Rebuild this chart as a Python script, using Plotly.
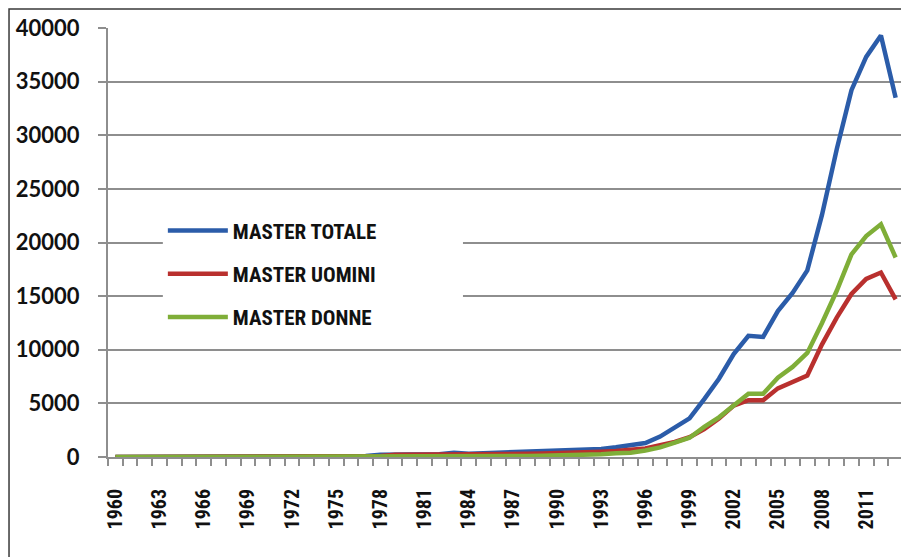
import plotly.graph_objects as go

years = list(range(1960, 2014))

master_totale = [0]*17 + [
    100, 200, 200, 250, 250, 250, 400, 300, 350, 400,          # 1977-1986
    400, 400, 450, 500, 550, 650, 750, 900, 1050, 1300,        # 1987-1996
    1900, 2700, 3600, 5400, 7300, 9600, 11300, 11200, 13600,   # 1997-2005
    15300, 17400, 22600, 28700, 34200, 37300, 39300, 33500     # 2006-2013
]
master_uomini = [0]*17 + [
    50, 100, 200, 200, 200, 200, 250, 250, 250, 300,
    300, 300, 330, 350, 400, 450, 500, 550, 650, 800,
    1100, 1400, 1850, 2600, 3600, 4800, 5300, 5300, 6400,
    7000, 7600, 10500, 13000, 15200, 16600, 17200, 14700
]
master_donne = [0]*17 + [
    0, 20, 30, 30, 40, 40, 50, 60, 70, 80,
    90, 100, 120, 150, 150, 200, 250, 350, 400, 600,
    900, 1350, 1800, 2800, 3700, 4800, 5900, 5900, 7400,
    8400, 9700, 12500, 15500, 18900, 20600, 21700, 18600
]

series_names = ["MASTER TOTALE", "MASTER UOMINI", "MASTER DONNE"]
series_values = [master_totale, master_uomini, master_donne]
series_colors = ["#2b5ca9", "#b9302e", "#7fae38"]

x_tick_labels = [str(y) for y in range(1960, 2014, 3)]
x_tick_vals = list(range(1960, 2014, 3))
y_tick_vals = list(range(0, 40001, 5000))

fig = go.Figure()
for i, (name, vals, col) in enumerate(zip(series_names, series_values, series_colors)):
    fig.add_trace(go.Scatter(
        x=years, y=vals, name=name, mode="lines",
        line=dict(color=col, width=4.5),
        legendgroup=f"g{i}",
    ))

grid_col = "#8e8e8e"
narrow = "Liberation Sans Narrow, Arial Narrow, Roboto Condensed, sans-serif"

fig.update_layout(
    width=901, height=549,
    margin=dict(l=100, r=6, t=20, b=100),
    paper_bgcolor="white", plot_bgcolor="white",
    showlegend=True,
    legend=dict(
        x=0.069, y=0.575, xanchor="left", yanchor="top",
        bgcolor="white", borderwidth=0,
        font=dict(family=narrow, size=21, color="#111111", weight="bold"),
        tracegroupgap=13, itemwidth=60,
    ),
    xaxis=dict(
        range=[1959.5, 2013.5],
        tickmode="array", tickvals=x_tick_vals, ticktext=x_tick_labels,
        ticks="", tickangle=-90,
        tickfont=dict(family=narrow, size=20, color="#111111", weight="bold"),
        ticklabelstandoff=22,
        showline=True, linecolor=grid_col, linewidth=2,
        showgrid=False, zeroline=False,
        minor=dict(tick0=1959.5, dtick=1, ticks="outside", ticklen=7,
                   tickcolor=grid_col, tickwidth=2, showgrid=False),
    ),
    yaxis=dict(
        range=[0, 40000],
        tickmode="array", tickvals=y_tick_vals, tickformat="d",
        ticks="outside", ticklen=8, tickcolor=grid_col, tickwidth=2,
        tickfont=dict(family="Lato, sans-serif", size=22, color="#111111", weight="bold"),
        ticklabelstandoff=14,
        showline=True, linecolor=grid_col, linewidth=2,
        showgrid=True, gridcolor=grid_col, gridwidth=2,
        zeroline=False,
    ),
    shapes=[
        dict(type="rect", xref="paper", yref="paper",
             x0=0.069, x1=0.4465, y0=0.2727, y1=0.5688,
             line=dict(width=0), fillcolor="white", layer="above"),
        dict(type="rect", xref="paper", yref="paper",
             x0=-0.1245, x1=1.2, y0=-0.6, y1=1.0443,
             line=dict(color="#3a3a3a", width=1.5), fillcolor="rgba(0,0,0,0)",
             layer="above"),
    ],
)

fig.write_html("out.html")
